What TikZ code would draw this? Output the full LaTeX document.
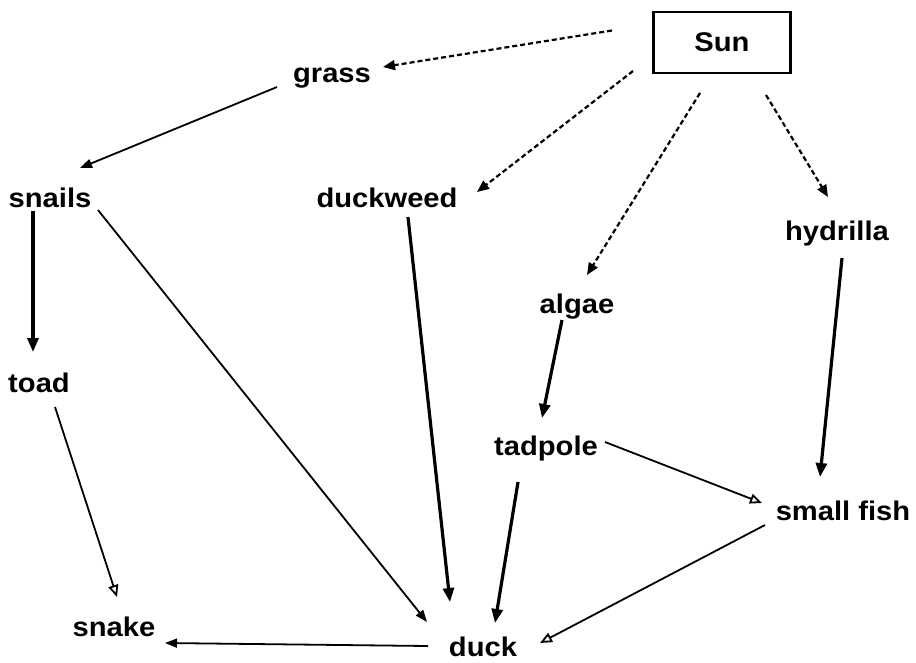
\documentclass[tikz,border=0pt]{standalone}
\usepackage{fontspec}
\newfontfamily\labelfont[FakeStretch=1.08]{Liberation Sans}
\usetikzlibrary{arrows.meta,calc}
\begin{document}
\begin{tikzpicture}[x=1pt,y=-1pt,
  lbl/.style={anchor=base,inner sep=0pt,font=\labelfont\bfseries\fontsize{27}{30}\selectfont},
  sunbox/.style={draw,line width=2.2pt,minimum width=137pt,minimum height=61pt,inner sep=0pt,font=\labelfont\bfseries\fontsize{27}{30}\selectfont},
  thin/.style={line width=1.8pt,-{Triangle[length=12pt,width=9pt]}},
  thinopen/.style={line width=1.8pt,-{Triangle[open,length=12pt,width=10pt,line width=1.8pt]}},
  thick/.style={line width=3.2pt,-{Triangle[length=14pt,width=11pt]}},
  sunray/.style={line width=2.2pt,dash pattern=on 5pt off 3pt,-{Triangle[length=12pt,width=10pt]}}]
\useasboundingbox (0,0) rectangle (916,662);
\node[sunbox] (sun) at (722,42.5) {Sun};
\node[lbl] (grass) at (332,82) {grass};
\node[lbl] (snails) at (50,207) {snails};
\node[lbl] (duckweed) at (387,207) {duckweed};
\node[lbl] (hydrilla) at (837,240) {hydrilla};
\node[lbl] (algae) at (577,313) {algae};
\node[lbl] (toad) at (39,392) {toad};
\node[lbl] (tadpole) at (546,455) {tadpole};
\node[lbl] (smallfish) at (843,520) {small fish};
\node[lbl] (snake) at (114,636) {snake};
\node[lbl] (duck) at (483,656) {duck};
% sun rays
\draw[sunray] ($(sun.center)+(-110,-12)$) -- ($(grass.base)+(51,-15)$);
\draw[sunray] ($(sun.center)+(-89,28.5)$) -- ($(duckweed.base)+(90,-15)$);
\draw[sunray] ($(sun.center)+(-22,50.5)$) -- ($(algae.base)+(10,-38)$);
\draw[sunray] ($(sun.center)+(44,52.5)$) -- ($(hydrilla.base)+(-9,-43)$);
% food chain
\draw[thin] ($(grass.base)+(-55,5)$) -- ($(snails.base)+(30,-39)$);
\draw[thick] ($(snails.base)+(-17,4)$) -- ($(toad.base)+(-6,-40)$);
\draw[thin] ($(snails.base)+(48,3)$) -- ($(duck.base)+(-56,-34)$);
\draw[thinopen] ($(toad.base)+(16,15)$) -- ($(snake.base)+(3,-39)$);
\draw[thick] ($(duckweed.base)+(21,10)$) -- ($(duck.base)+(-33,-54)$);
\draw[thick] ($(algae.base)+(-15,7)$) -- ($(tadpole.base)+(-4,-37)$);
\draw[thick] ($(hydrilla.base)+(5,18)$) -- ($(smallfish.base)+(-23,-43)$);
\draw[thinopen] ($(tadpole.base)+(59,-13)$) -- ($(smallfish.base)+(-81,-17)$);
\draw[thick] ($(tadpole.base)+(-28,27)$) -- ($(duck.base)+(12,-33)$);
\draw[thinopen] ($(smallfish.base)+(-78,5)$) -- ($(duck.base)+(57,-13)$);
\draw[thin] ($(duck.base)+(-55,-10)$) -- ($(snake.base)+(51,7)$);
\end{tikzpicture}
\end{document}
